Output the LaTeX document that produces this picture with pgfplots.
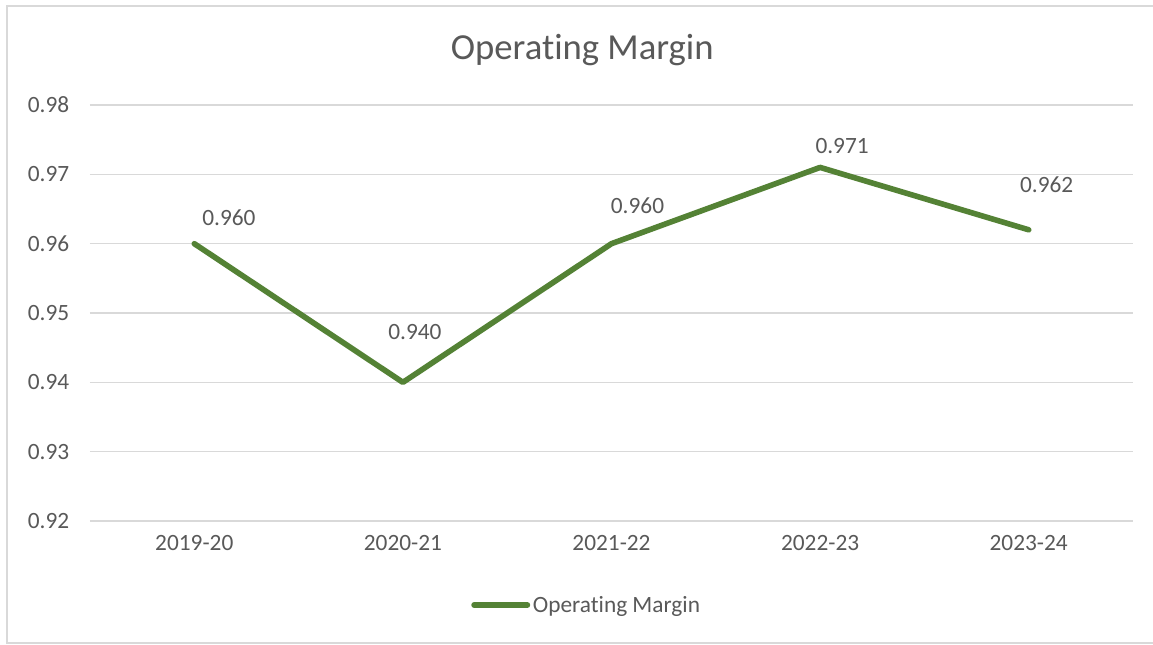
\documentclass[border=0pt]{standalone}
\usepackage{pgfplots}
\pgfplotsset{compat=1.18}
\usepackage{fontspec}
\setmainfont[Ligatures=NoCommon]{Carlito}
\definecolor{linegreen}{HTML}{548235}
\definecolor{txtgray}{HTML}{595959}
\definecolor{gridgray}{HTML}{D9D9D9}
\begin{document}
\begin{tikzpicture}
\path[use as bounding box, fill=white] (-67.5pt,-92.25pt) rectangle (797.25pt,390.75pt);
\draw[gridgray, line width=0.8pt] (797.25pt,386.25pt) -- (-62.25pt,386.25pt) -- (-62.25pt,-91.5pt) -- (797.25pt,-91.5pt);
\begin{axis}[
  at={(0,0)}, anchor=south west,
  scale only axis,
  width=782.25pt, height=312pt,
  xmin=-0.5, xmax=4.5,
  ymin=0.92, ymax=0.98,
  ytick={0.92,0.93,...,0.98},
  xtick={0,1,2,3,4},
  xticklabels={2019-20,2020-21,2021-22,2022-23,2023-24},
  axis line style={draw=none},
  major tick length=0pt,
  ymajorgrids,
  grid style={gridgray, line width=0.9pt},
  tick label style={font=\fontsize{17.5}{20}\selectfont, text=txtgray},
  /pgf/number format/assume math mode=true,
  yticklabel style={/pgf/number format/fixed, /pgf/number format/precision=2, /pgf/number format/fixed zerofill, xshift=-12pt},
  xticklabel style={yshift=-7pt},
  clip=false,
  legend style={at={(0.4765,-0.202)}, anchor=center, draw=none, fill=none,
    font=\fontsize{17.5}{20}\selectfont, text=txtgray,
    /tikz/every even column/.append style={column sep=0pt}},
  legend cell align=left,
  legend image code/.code={\draw[linegreen, line width=4.2pt, line cap=round] (0pt,0pt) -- (40pt,0pt);},
]
\addplot[linegreen, line width=4.2pt, line cap=round, line join=round] coordinates {
  (0,0.960) (1,0.940) (2,0.960) (3,0.971) (4,0.962)
};
\addlegendentry{Operating Margin}
\begin{scope}[every node/.style={font=\fontsize{17.5}{20}\selectfont, text=txtgray}]
\node at (axis cs:0,0.960) [xshift=26pt, yshift=19.5pt] {0.960};
\node at (axis cs:1,0.940) [xshift=9pt, yshift=37.5pt] {0.940};
\node at (axis cs:2,0.960) [xshift=19.5pt, yshift=28.5pt] {0.960};
\node at (axis cs:3,0.971) [xshift=16.5pt, yshift=16pt] {0.971};
\node at (axis cs:4,0.962) [xshift=13.5pt, yshift=33.5pt] {0.962};
\end{scope}
\node[font=\fontsize{27.5}{32}\selectfont, text=txtgray] at (rel axis cs:0.472,1.0) [yshift=41pt] {Operating Margin};
\end{axis}
\end{tikzpicture}
\end{document}
